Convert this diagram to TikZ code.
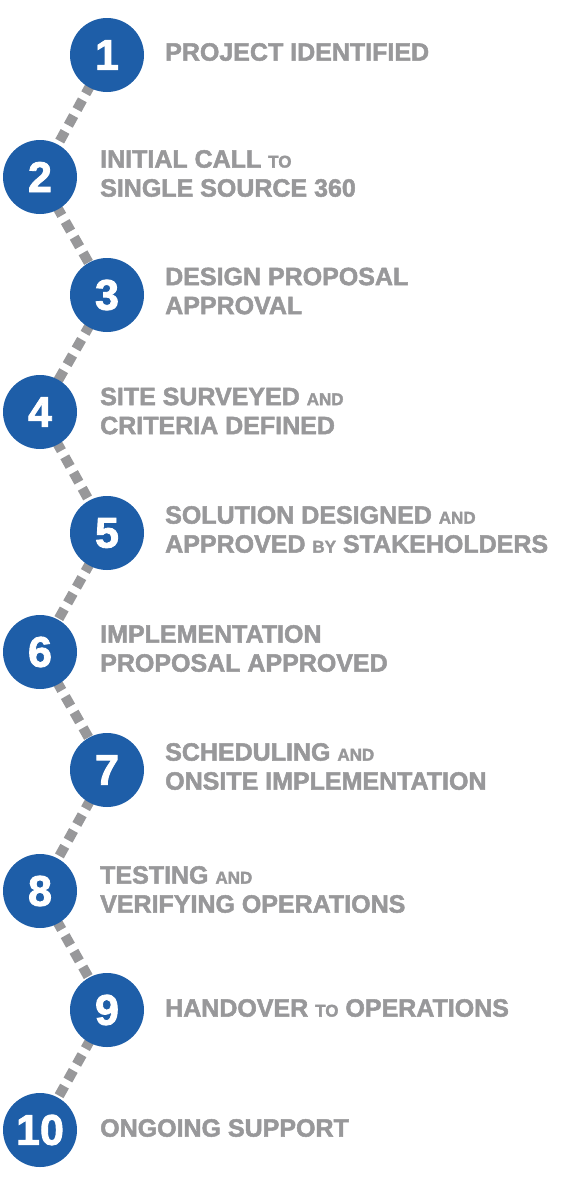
\documentclass[tikz,border=0pt]{standalone}
\usepackage{fontspec}
\setmainfont{Liberation Sans}
\newfontfamily\heavyfont[FakeBold=2]{Liberation Sans Bold}
\usetikzlibrary{backgrounds}

\definecolor{stepblue}{RGB}{30,94,168}
\definecolor{stepgrey}{RGB}{152,152,154}

\tikzset{
  stepdot/.style={circle, fill=stepblue, minimum size=74pt, inner sep=0pt,
    text=white, font=\heavyfont\fontsize{43}{43}\selectfont},
  steptext/.style={anchor=west, inner sep=0pt, align=left, text=stepgrey,
    font=\heavyfont\fontsize{25}{29}\selectfont},
  steplink/.style={draw=stepgrey, line width=10pt, dash pattern=on 11pt off 7pt,
    shorten <=-4pt, shorten >=-4pt},
}
\newcommand{\smallword}[1]{{\fontsize{17}{29}\selectfont #1}}

\begin{document}
\begin{tikzpicture}[x=1pt,y=1pt,yscale=-1,xscale=1]
\useasboundingbox (0,0) rectangle (560,1200);

%Shape: Circle
\node [stepdot] (c1) at (107,55) {1};
\node [stepdot] (c2) at (40,177) {2};
\node [stepdot] (c3) at (107,295) {3};
\node [stepdot] (c4) at (40,412) {4};
\node [stepdot] (c5) at (107,533) {5};
\node [stepdot] (c6) at (40,652) {6};
\node [stepdot] (c7) at (107,770) {7};
\node [stepdot] (c8) at (40,891) {8};
\node [stepdot] (c9) at (107,1010) {9};
\node [stepdot] (c10) at (40,1130) {10};

%Dashed Lines
\begin{scope}[on background layer]
\draw [steplink] (c1) -- (c2);
\draw [steplink] (c2) -- (c3);
\draw [steplink] (c3) -- (c4);
\draw [steplink] (c4) -- (c5);
\draw [steplink] (c5) -- (c6);
\draw [steplink] (c6) -- (c7);
\draw [steplink] (c7) -- (c8);
\draw [steplink] (c8) -- (c9);
\draw [steplink] (c9) -- (c10);
\end{scope}

% Text Node
\node [steptext] (t1) at (165,52) {PROJECT IDENTIFIED};
% Text Node
\node [steptext] (t2) at (100,173.5) {INITIAL CALL \smallword{TO}\\SINGLE SOURCE 360};
% Text Node
\node [steptext] (t3) at (165,291) {DESIGN PROPOSAL\\APPROVAL};
% Text Node
\node [steptext] (t4) at (100,411) {SITE SURVEYED \smallword{AND}\\CRITERIA DEFINED};
% Text Node
\node [steptext] (t5) at (165,529.5) {SOLUTION DESIGNED \smallword{AND}\\APPROVED \smallword{BY} STAKEHOLDERS};
% Text Node
\node [steptext] (t6) at (100,648.5) {IMPLEMENTATION\\PROPOSAL APPROVED};
% Text Node
\node [steptext] (t7) at (165,766.5) {SCHEDULING \smallword{AND}\\ONSITE IMPLEMENTATION};
% Text Node
\node [steptext] (t8) at (100,889.5) {TESTING \smallword{AND}\\VERIFYING OPERATIONS};
% Text Node
\node [steptext] (t9) at (165,1008) {HANDOVER \smallword{TO} OPERATIONS};
% Text Node
\node [steptext] (t10) at (100,1128) {ONGOING SUPPORT};

\end{tikzpicture}
\end{document}
